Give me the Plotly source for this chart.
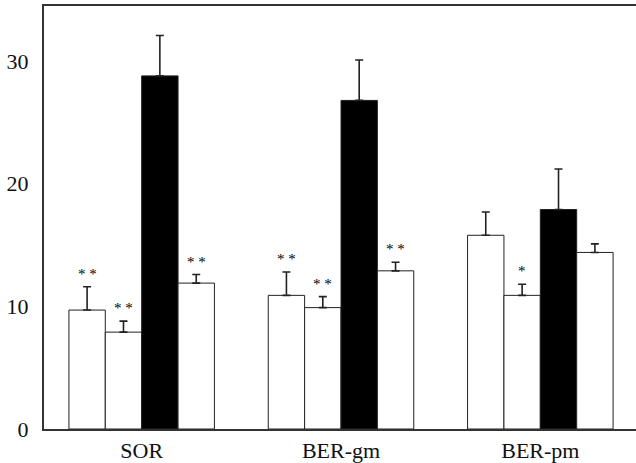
import plotly.graph_objects as go

categories = ["SOR", "BER-gm", "BER-pm"]
series_values = [
    [9.7, 10.9, 15.8],   # series 1 (white)
    [7.9, 9.9, 10.9],    # series 2 (white)
    [28.8, 26.8, 17.9],  # series 3 (black)
    [11.9, 12.9, 14.4],  # series 4 (white)
]
series_errors = [
    [1.9, 1.9, 1.9],
    [0.9, 0.9, 0.9],
    [3.3, 3.3, 3.3],
    [0.7, 0.7, 0.7],
]
series_stars = [
    ["**", "**", ""],
    ["**", "**", "*"],
    ["", "", ""],
    ["**", "**", ""],
]
y_ticks = [0, 10, 20, 30]

fill_colors = ["white", "white", "black", "white"]
bargap = 0.27
n_series = len(series_values)
bar_w = (1 - bargap) / n_series
serif = "Liberation Serif, Times New Roman, Times, serif"

fig = go.Figure()
for si, vals in enumerate(series_values):
    fig.add_trace(go.Bar(
        x=categories, y=vals,
        marker=dict(color=fill_colors[si], line=dict(color="#222", width=1)),
        error_y=dict(type="data", symmetric=False, array=series_errors[si],
                     arrayminus=[0] * len(vals), color="#222", thickness=1.6, width=4),
        showlegend=False,
    ))

for si, stars in enumerate(series_stars):
    for gi, s in enumerate(stars):
        if not s:
            continue
        fig.add_annotation(
            x=gi + (si - (n_series - 1) / 2) * bar_w,
            y=series_values[si][gi] + series_errors[si][gi],
            text=" ".join(list(s)), showarrow=False, yanchor="bottom",
            yshift=3, font=dict(family=serif, size=15, color="#000"),
        )

fig.update_layout(
    width=636, height=463,
    margin=dict(l=44, r=0, t=6, b=34),
    paper_bgcolor="white", plot_bgcolor="white",
    barmode="group", bargap=bargap, bargroupgap=0,
    font=dict(family=serif, size=21, color="#111"),
)
fig.update_xaxes(
    range=[-0.49, 2.48], showline=True, linecolor="#333", linewidth=2,
    mirror=True, ticks="", showgrid=False, zeroline=False,
    tickfont=dict(size=22), ticklabelstandoff=1, automargin=False,
)
fig.update_yaxes(
    range=[0, 34.5], tickvals=y_ticks, showline=True, linecolor="#333", linewidth=2,
    ticks="", showgrid=False, zeroline=False, ticklabelstandoff=9,
    tickfont=dict(size=22), automargin=False,
)
fig.write_html("out.html")
